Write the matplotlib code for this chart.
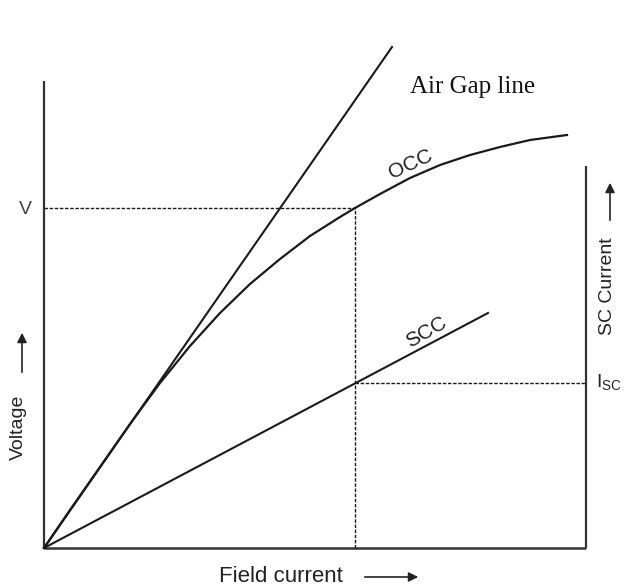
import matplotlib
matplotlib.use("Agg")
import matplotlib.pyplot as plt
import numpy as np

# Data (units: arbitrary, origin at the axes corner)
air_gap_x = [0, 348]
air_gap_y = [0, 501]

occ_x = [0, 26, 56, 86, 116, 146, 176, 206, 236, 266, 296, 311, 336, 366, 396, 426, 456, 486, 523]
occ_y = [0, 38, 81, 124, 165, 202, 235, 264, 289, 312, 331, 340, 354, 370, 383, 393, 401, 408, 413]

scc_x = [0, 444]
scc_y = [0, 235]

v_level = 340
field_op = 311
isc_level = 165

x_end = 542
left_axis_top = 467
right_axis_top = 382

fig = plt.figure(figsize=(6.25, 5.88), dpi=100)
ax = fig.add_axes([0, 0, 1, 1])
ax.set_xlim(-44, 581)
ax.set_ylim(-40, 548)
ax.axis("off")

k = "#1a1a1a"
g = "#333333"
# axes lines
ax.plot([0, 0], [0, left_axis_top], color=g, lw=1.6, solid_capstyle="butt")
ax.plot([0, x_end], [0, 0], color=g, lw=1.8, solid_capstyle="butt")
ax.plot([x_end, x_end], [0, right_axis_top], color=g, lw=1.6, solid_capstyle="butt")

# curves
ax.plot(air_gap_x, air_gap_y, color=k, lw=1.5)
ax.plot(occ_x, occ_y, color=k, lw=1.6, solid_joinstyle="round")
ax.plot(scc_x, scc_y, color=k, lw=1.5)

# dashed guides
ds = dict(color=k, lw=1.0, dashes=(2.5, 1.2))
ax.plot([0, field_op], [v_level, v_level], **ds)
ax.plot([field_op, field_op], [0, v_level], **ds)
ax.plot([field_op, x_end], [isc_level, isc_level], **ds)

sans = "Liberation Sans"
tc = "#222222"
ax.text(367, 384, "OCC", fontsize=15, family=sans, color=tc, rotation=25,
        ha="center", va="center")
ax.text(382, 216, "SCC", fontsize=15, family=sans, color=tc, rotation=30,
        ha="center", va="center")
ax.text(429, 461, "Air Gap line", fontsize=18, family="Liberation Serif",
        color="#111111", ha="center", va="center")
ax.text(-19, 339, "V", fontsize=14, family=sans, color="#444444",
        ha="center", va="center")
ax.text(552, 165, r"I$_{\mathregular{SC}}$", fontsize=14, family=sans, color=tc,
        ha="left", va="center")

# axis titles
ax.text(-26, 121, "Voltage", fontsize=14, family=sans, color=tc, rotation=90,
        ha="center", va="center")
ax.annotate("", xy=(-22, 218), xytext=(-22, 173),
            arrowprops=dict(arrowstyle="-|>", color=tc, lw=1.2, mutation_scale=14))
ax.text(564, 262, "SC Current", fontsize=14, family=sans, color=tc, rotation=90,
        ha="center", va="center")
ax.annotate("", xy=(566, 368), xytext=(566, 325),
            arrowprops=dict(arrowstyle="-|>", color=tc, lw=1.2, mutation_scale=14))
ax.text(237, -28, "Field current", fontsize=16, family=sans, color=tc,
        ha="center", va="center")
ax.annotate("", xy=(377, -29), xytext=(318, -29),
            arrowprops=dict(arrowstyle="-|>", color=tc, lw=1.2, mutation_scale=14))

fig.savefig("out.png", dpi=100)
